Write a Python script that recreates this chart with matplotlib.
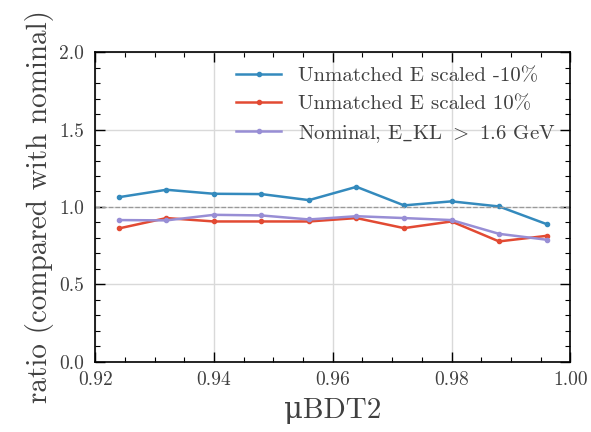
import matplotlib
matplotlib.use("Agg")
import matplotlib.pyplot as plt
from matplotlib.ticker import MultipleLocator, FormatStrFormatter

plt.rcParams['font.family'] = ['cmr10', 'DejaVu Serif']
plt.rcParams['mathtext.fontset'] = 'cm'
plt.rcParams['axes.formatter.use_mathtext'] = True

bdt_cut = [0.924, 0.932, 0.940, 0.948, 0.956, 0.964, 0.972, 0.980, 0.988, 0.996]
scaled_down = [1.063, 1.111, 1.085, 1.083, 1.044, 1.130, 1.010, 1.036, 1.003, 0.889]
scaled_up = [0.861, 0.928, 0.906, 0.906, 0.906, 0.928, 0.863, 0.906, 0.777, 0.813]
nominal_cut = [0.915, 0.913, 0.949, 0.945, 0.919, 0.940, 0.928, 0.915, 0.826, 0.788]

labels = ["Unmatched E scaled -10%", "Unmatched E scaled 10%", r"Nominal, E$\_$KL $>$ 1.6 GeV"]
colors = ['#348ABD', '#E24A33', '#988ED5']
txt = '0.25'

fig = plt.figure(figsize=(5.91, 4.32), dpi=100)
ax = fig.add_axes([0.161, 0.163, 0.804, 0.716])

for y, lab, c in zip([scaled_down, scaled_up, nominal_cut], labels, colors):
    ax.plot(bdt_cut, y, color=c, marker='o', markersize=3, linewidth=1.8, label=lab)

ax.axhline(1.0, color='0.6', linestyle='--', linewidth=0.9)

ax.set_xlim(0.92, 1.00)
ax.set_ylim(0.0, 2.0)
ax.xaxis.set_major_locator(MultipleLocator(0.02))
ax.xaxis.set_minor_locator(MultipleLocator(0.005))
ax.yaxis.set_major_locator(MultipleLocator(0.5))
ax.yaxis.set_minor_locator(MultipleLocator(0.1))
ax.xaxis.set_major_formatter(FormatStrFormatter('%.2f'))
ax.yaxis.set_major_formatter(FormatStrFormatter('%.1f'))
ax.tick_params(which='both', direction='in', top=True, right=True, labelsize=14, labelcolor=txt)
ax.tick_params(which='major', length=7, width=1)
ax.tick_params(axis='x', which='major', pad=7)
ax.tick_params(axis='y', which='major', pad=8)
ax.tick_params(which='minor', length=3.5, width=0.8)
ax.grid(True, which='major', color='0.85', linewidth=1)
ax.set_axisbelow(True)
for s in ax.spines.values():
    s.set_linewidth(1.2)

ax.set_xlabel("μBDT2", fontsize=21, color=txt, labelpad=6)
ax.set_ylabel("ratio (compared with nominal)", fontsize=21, color=txt, labelpad=4)
leg = ax.legend(loc='upper right', frameon=False, fontsize=15, handlelength=2.2,
                labelspacing=0.45, borderaxespad=0.3)
for t in leg.get_texts():
    t.set_color(txt)

fig.savefig("out.png", dpi=100)
